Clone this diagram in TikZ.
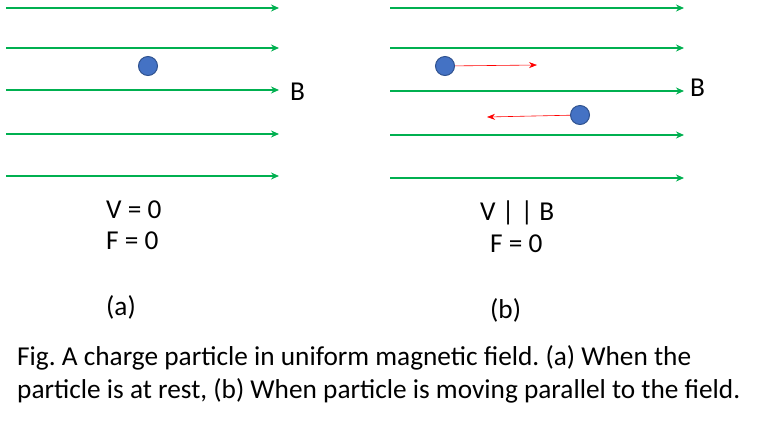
\documentclass[tikz,border=0pt]{standalone}
\usepackage{fontspec}
\setmainfont{Carlito}
\usetikzlibrary{arrows.meta}
\frenchspacing
\begin{document}
\begin{tikzpicture}[x=1pt,y=-1pt,
  field/.style={draw={rgb,255:red,0;green,176;blue,80},line width=1.6pt,-{Stealth[length=8pt,width=7pt]}},
  vel/.style={draw=red,line width=0.6pt,-{Stealth[length=8pt,width=6pt]}},
  charge/.style={circle,draw={rgb,255:red,47;green,82;blue,143},fill={rgb,255:red,68;green,114;blue,196},line width=1pt,minimum size=19pt,inner sep=0pt},
  lbl/.style={font=\fontsize{27.3}{32}\selectfont,anchor=west,inner sep=0pt}]
\useasboundingbox (0,0) rectangle (768,424);
\foreach \i/\y in {1/8,2/48,3/90,4/134,5/176}{
  \coordinate (la\i) at (6,\y); \coordinate (lb\i) at (279,\y);
  \draw[field] (la\i) -- (lb\i);}
\foreach \i/\y in {1/8,2/48,3/91,4/135,5/178}{
  \coordinate (ra\i) at (390,\y); \coordinate (rb\i) at (684,\y);
  \draw[field] (ra\i) -- (rb\i);}
\node[charge] (c1) at (148,66) {};
\node[charge] (c2) at (445,66) {};
\node[charge] (c3) at (580,115) {};
\coordinate (v2) at (537,65);
\coordinate (v3) at (487,117);
\draw[vel] (c2) -- (v2);
\draw[vel] (c3) -- (v3);
\node[lbl] (B1) at (290,92) {B};
\node[lbl] (B2) at (690,88) {B};
\node[lbl] (t1) at (106,210) {V = 0};
\node[lbl] (t2) at (106,241) {F = 0};
\node[lbl] (t3) at (106,307) {(a)};
\node[lbl] (t4) at (480,213) {V | | B};
\node[lbl] (t5) at (490,244) {F = 0};
\node[lbl] (t6) at (490,310) {(b)};
\node[lbl] (cap1) at (17,358) {Fig. A charge particle in uniform magnetic field. (a) When the};
\node[lbl] (cap2) at (17,391) {particle is at rest, (b) When particle is moving parallel to the field.};
\end{tikzpicture}
\end{document}
